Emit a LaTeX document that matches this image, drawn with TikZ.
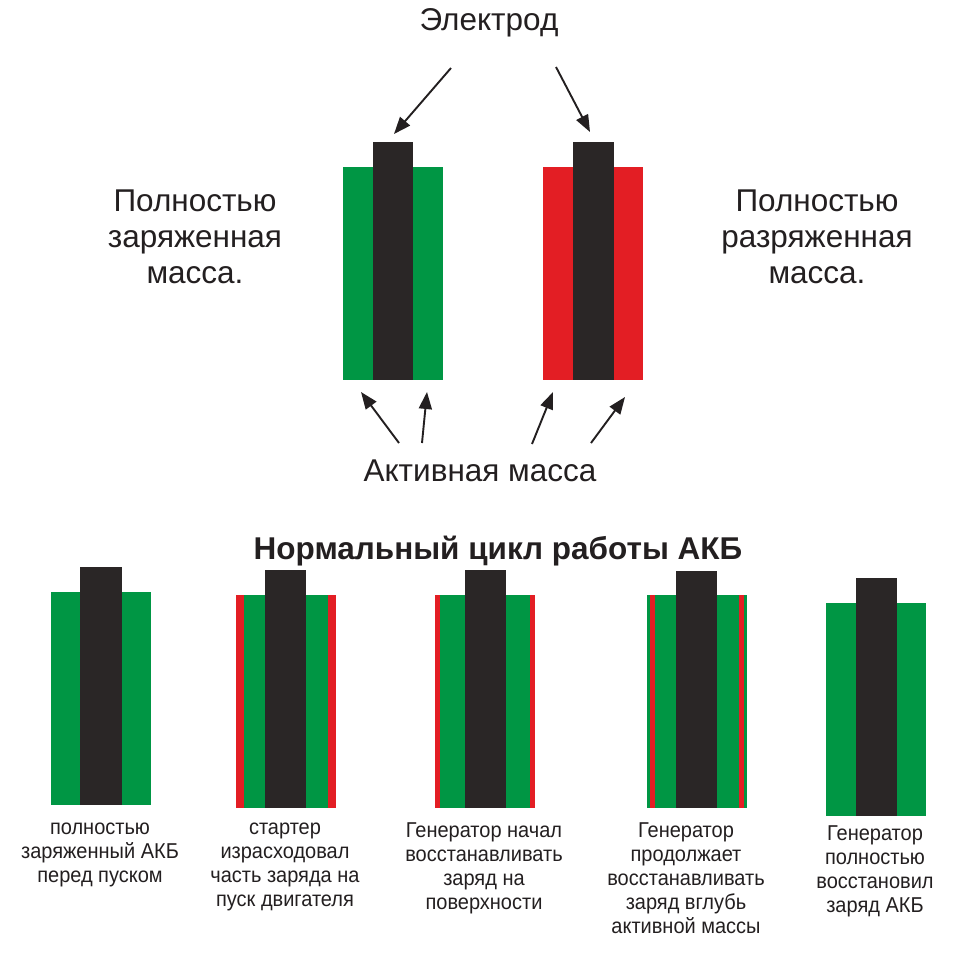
\documentclass[tikz,border=0pt]{standalone}
\usepackage{fontspec}
\setmainfont{Liberation Sans}
\newfontfamily\labelfont[FakeStretch=0.93]{Liberation Sans}
\usetikzlibrary{arrows.meta}
\definecolor{plgreen}{RGB}{0,150,68}
\definecolor{plred}{RGB}{227,30,36}
\definecolor{pldark}{RGB}{42,38,38}
\definecolor{txt}{RGB}{35,31,32}
\tikzset{
  bigtxt/.style={inner sep=0pt, text=txt, align=center, font=\fontsize{31.5}{36}\selectfont},
  smalltxt/.style={inner sep=0pt, text=txt, align=center, anchor=north, font=\labelfont\fontsize{21.5}{24}\selectfont},
  titletxt/.style={inner sep=0pt, text=txt, font=\fontsize{31.5}{36}\selectfont\bfseries},
  pointer/.style={draw=txt, line width=1.9pt, -{Triangle[length=17pt,width=13pt]}}
}
\begin{document}
\begin{tikzpicture}[x=1pt,y=-1pt]
\useasboundingbox[fill=white] (0,0) rectangle (972,970);

% ---------- top plates ----------
\fill[plgreen] (343,167) rectangle (443,380);
\fill[pldark] (373,142) rectangle (413,380);
\fill[plred] (543,167) rectangle (643,380);
\fill[pldark] (573,142) rectangle (614,380);

% ---------- top texts ----------
\node[bigtxt, anchor=base] (electrode) at (489,30) {Электрод};
\node[bigtxt, anchor=north] (charged) at (195,190) {Полностью\\заряженная\\масса.};
\node[bigtxt, anchor=north] (discharged) at (817,190) {Полностью\\разряженная\\масса.};
\node[bigtxt, anchor=base] (active) at (480,481) {Активная масса};

% ---------- arrows ----------
\coordinate (e1s) at (451,68);  \coordinate (e1t) at (394,134);
\coordinate (e2s) at (556,67);  \coordinate (e2t) at (590,132);
\coordinate (a1s) at (399,443); \coordinate (a1t) at (361,392);
\coordinate (a2s) at (422,443); \coordinate (a2t) at (427,392);
\coordinate (a3s) at (532,444); \coordinate (a3t) at (553,392);
\coordinate (a4s) at (591,443); \coordinate (a4t) at (625,397);
\foreach \s/\t in {e1s/e1t,e2s/e2t,a1s/a1t,a2s/a2t,a3s/a3t,a4s/a4t}
  \draw[pointer] (\s) -- (\t);

% ---------- title ----------
\node[titletxt, anchor=base] (title) at (498,559) {Нормальный цикл работы АКБ};

% ---------- bottom plates ----------
% 1
\fill[plgreen] (51,592) rectangle (151,805);
\fill[pldark] (80,567) rectangle (122,805);
% 2
\fill[plred] (236,595) rectangle (336,808);
\fill[plgreen] (244,595) rectangle (328,808);
\fill[pldark] (265,570) rectangle (306,808);
% 3
\fill[plred] (435,595) rectangle (535,808);
\fill[plgreen] (440,595) rectangle (530,808);
\fill[pldark] (465,570) rectangle (506,808);
% 4
\fill[plgreen] (647,595) rectangle (747,808);
\fill[plred] (650,595) rectangle (655,808);
\fill[plred] (739,595) rectangle (744,808);
\fill[pldark] (676,571) rectangle (717,808);
% 5
\fill[plgreen] (826,603) rectangle (926,816);
\fill[pldark] (856,578) rectangle (897,816);

% ---------- bottom labels ----------
\node[smalltxt] (l1) at (100,823) {полностью\\заряженный АКБ\\перед пуском};
\node[smalltxt] (l2) at (285,823) {стартер\\израсходовал\\часть заряда на\\пуск двигателя};
\node[smalltxt] (l3) at (484,822) {Генератор начал\\восстанавливать\\заряд на\\поверхности};
\node[smalltxt] (l4) at (686,822) {Генератор\\продолжает\\восстанавливать\\заряд вглубь\\активной массы};
\node[smalltxt] (l5) at (875,825) {Генератор\\полностью\\восстановил\\заряд АКБ};
\end{tikzpicture}
\end{document}
